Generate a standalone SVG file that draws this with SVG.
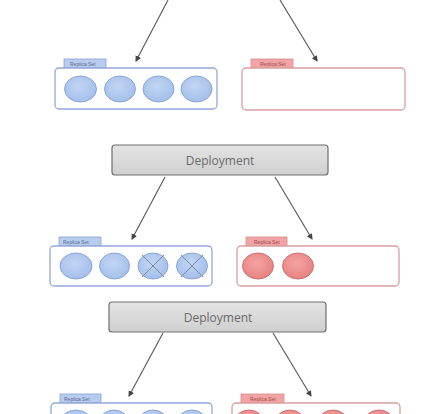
<svg xmlns="http://www.w3.org/2000/svg" width="445" height="414" viewBox="0 0 445 414">
<defs>
<style>
.rsb{fill:#fff;stroke:#95a9d6;stroke-width:1.3}
.rsr{fill:#fff;stroke:#d9a0a0;stroke-width:1.3}
.tabb{fill:#b8ccef;stroke:#8aa2d6;stroke-width:0.8}
.tabr{fill:#f2a3a3;stroke:#d98a8a;stroke-width:0.8}
.tabt{font-family:"Liberation Sans",Arial,sans-serif;font-size:5px;fill:#5a6a90}
.tabtr{font-family:"Liberation Sans",Arial,sans-serif;font-size:5px;fill:#9a4a4a}
.pb{fill:url(#gb);stroke:#839fd2;stroke-width:0.9}
.pr{fill:url(#gr);stroke:#c86a6a;stroke-width:0.9}
.x{stroke:#7a8aa8;stroke-width:1}
.dep{fill:url(#gd);stroke:#6f6f6f;stroke-width:1.2}
.dept{font-family:"Open Sans","Liberation Sans",sans-serif;font-size:12px;fill:#6a6a6a;text-anchor:middle}
.arr{stroke:#555;stroke-width:1.1;fill:none;marker-end:url(#ah)}
</style>
<radialGradient id="gb" cx="0.45" cy="0.4" r="0.7"><stop offset="0" stop-color="#c2d6f4"/><stop offset="1" stop-color="#9fbbe8"/></radialGradient>
<radialGradient id="gr" cx="0.45" cy="0.4" r="0.7"><stop offset="0" stop-color="#f5a3a3"/><stop offset="1" stop-color="#e57c7c"/></radialGradient>
<linearGradient id="gd" x1="0" y1="0" x2="0" y2="1"><stop offset="0" stop-color="#e4e4e4"/><stop offset="1" stop-color="#cfcfcf"/></linearGradient>
<marker id="ah" markerWidth="7" markerHeight="7" refX="5" refY="3" orient="auto" markerUnits="userSpaceOnUse"><path d="M0,0 L6,3 L0,6 z" fill="#444"/></marker>
</defs>

<g id="connectors">
<line class="arr" x1="168" y1="0" x2="136" y2="61"/>
<line class="arr" x1="280" y1="0" x2="317" y2="61"/>
<line class="arr" x1="165" y1="177" x2="132" y2="239"/>
<line class="arr" x1="275" y1="177" x2="312" y2="239"/>
<line class="arr" x1="163" y1="333" x2="129" y2="396"/>
<line class="arr" x1="273" y1="333" x2="311" y2="396"/>
</g>

<g id="rs1-old">
<rect class="tabb" x="64" y="59" width="42" height="9"/>
<text class="tabt" x="70" y="65.5">Replica Set</text>
<rect class="rsb" x="55" y="68" width="162" height="41" rx="4"/>
<ellipse class="pb" cx="80.5" cy="89" rx="16" ry="13"/>
<ellipse class="pb" cx="120" cy="89" rx="15.5" ry="13"/>
<ellipse class="pb" cx="158.5" cy="89" rx="15.5" ry="13"/>
<ellipse class="pb" cx="196.5" cy="89" rx="15.5" ry="13"/>
</g>

<g id="rs1-new">
<rect class="tabr" x="251" y="59" width="42" height="9"/>
<text class="tabtr" x="260" y="65.5">Replica Set</text>
<rect class="rsr" x="242" y="68" width="163" height="42" rx="4"/>
</g>

<g id="deployment1">
<rect class="dep" x="112" y="145" width="216" height="30" rx="3"/>
<text class="dept" x="220" y="164.5">Deployment</text>
</g>

<g id="rs2-old">
<rect class="tabb" x="59" y="237" width="42" height="9"/>
<text class="tabt" x="63" y="243.5">Replica Set</text>
<rect class="rsb" x="50" y="246" width="162" height="40" rx="4"/>
<ellipse class="pb" cx="76" cy="266" rx="16" ry="13"/>
<ellipse class="pb" cx="114.5" cy="266" rx="15" ry="13"/>
<ellipse class="pb" cx="153" cy="266" rx="15" ry="13"/>
<line class="x" x1="142" y1="255" x2="164" y2="277"/>
<line class="x" x1="164" y1="255" x2="142" y2="277"/>
<ellipse class="pb" cx="192" cy="266" rx="15.5" ry="13"/>
<line class="x" x1="181" y1="255" x2="203" y2="277"/>
<line class="x" x1="203" y1="255" x2="181" y2="277"/>
</g>

<g id="rs2-new">
<rect class="tabr" x="246" y="237" width="41" height="9"/>
<text class="tabtr" x="254" y="243.5">Replica Set</text>
<rect class="rsr" x="237" y="246" width="162" height="40" rx="4"/>
<ellipse class="pr" cx="258" cy="266" rx="15.5" ry="13"/>
<ellipse class="pr" cx="298" cy="266" rx="15.5" ry="13"/>
</g>

<g id="deployment2">
<rect class="dep" x="109" y="302" width="217" height="30" rx="3"/>
<text class="dept" x="218" y="321.5">Deployment</text>
</g>

<g id="rs3-old">
<rect class="tabb" x="60" y="394" width="41" height="9"/>
<text class="tabt" x="64" y="400.5">Replica Set</text>
<rect class="rsb" x="51" y="403" width="161" height="40" rx="4"/>
<ellipse class="pb" cx="76" cy="423" rx="16" ry="13"/>
<ellipse class="pb" cx="114" cy="423" rx="15" ry="13"/>
<ellipse class="pb" cx="153" cy="423" rx="15" ry="13"/>
<ellipse class="pb" cx="192" cy="423" rx="15" ry="13"/>
</g>

<g id="rs3-new">
<rect class="tabr" x="241" y="394" width="43" height="9"/>
<text class="tabtr" x="250" y="400.5">Replica Set</text>
<rect class="rsr" x="232" y="403" width="168" height="40" rx="4"/>
<ellipse class="pr" cx="249" cy="423" rx="15" ry="13"/>
<ellipse class="pr" cx="290" cy="423" rx="15" ry="13"/>
<ellipse class="pr" cx="333" cy="423" rx="15" ry="13"/>
<ellipse class="pr" cx="379" cy="423" rx="15" ry="13"/>
</g>
</svg>
